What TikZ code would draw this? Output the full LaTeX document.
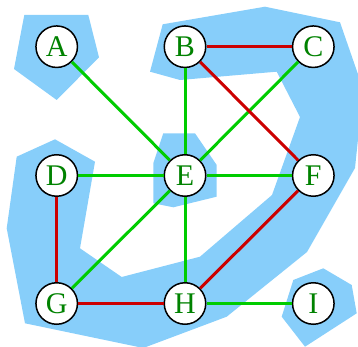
\documentclass[tikz,border=0pt]{standalone}
\usepackage{fontspec}
\setmainfont{Liberation Serif}
\definecolor{hull}{RGB}{135,206,250}
\definecolor{gedge}{RGB}{0,204,0}
\definecolor{redge}{RGB}{204,0,0}
\definecolor{gtext}{RGB}{0,130,0}
\begin{document}
\begin{tikzpicture}[x=1pt,y=-1pt,
  vert/.style={circle,draw=black,line width=1.5pt,fill=white,minimum size=41.5pt,inner sep=0pt,text=gtext,font=\fontsize{30}{30}\selectfont},
  gline/.style={gedge,line width=3pt},
  rline/.style={redge,line width=3pt},
  hullfill/.style={fill=hull}]
\useasboundingbox (0,0) rectangle (358,347);
\begin{scope}
\clip (0,0) rectangle (358,347);
\fill[hullfill] (24.3,15) -- (88.3,15) -- (99,57.3) -- (56.7,100) -- (14,69) -- cycle;
\fill[hullfill] (163.3,133.3) -- (195,133.3) -- (216.7,165) -- (216.7,196.7) -- (173.3,207.3) -- (153.3,203.3) -- (153.3,163.3) -- cycle;
\fill[hullfill] (293.3,280) -- (323.3,268.3) -- (351.7,285) -- (356.7,313.3) -- (305,346.7) -- (281.7,316.7) -- cycle;
\fill[hullfill] (162.7,24.3) -- (265,6.7) -- (340,22.3) -- (360,80) -- (360,120) -- (355,168) -- (307,252) -- (226.7,316.7) -- (143.3,348) -- (25,323.3) -- (6.7,228.3) -- (16.7,156.7) -- (55,139.3) -- (95,161.7) -- (80,248.3) -- (121.7,277) -- (200,256.7) -- (272,195) -- (300,117) -- (276.7,71.7) -- (180,80) -- (150,71.7) -- cycle;
\end{scope}
\node[vert] (A) at (56.7,46.7) {A};
\node[vert] (B) at (185,46.7) {B};
\node[vert] (C) at (313.3,46.7) {C};
\node[vert] (D) at (56.7,175.5) {D};
\node[vert] (E) at (185,175.5) {E};
\node[vert] (F) at (313.3,175.5) {F};
\node[vert] (G) at (56.7,303.5) {G};
\node[vert] (H) at (185,303.5) {H};
\node[vert] (I) at (313.3,303.5) {I};
\draw[gline] (A) -- (E);
\draw[gline] (B) -- (E);
\draw[gline] (C) -- (E);
\draw[gline] (D) -- (E);
\draw[gline] (E) -- (F);
\draw[gline] (E) -- (G);
\draw[gline] (E) -- (H);
\draw[gline] (H) -- (I);
\draw[rline] (B) -- (C);
\draw[rline] (B) -- (F);
\draw[rline] (D) -- (G);
\draw[rline] (G) -- (H);
\draw[rline] (H) -- (F);
\end{tikzpicture}
\end{document}
